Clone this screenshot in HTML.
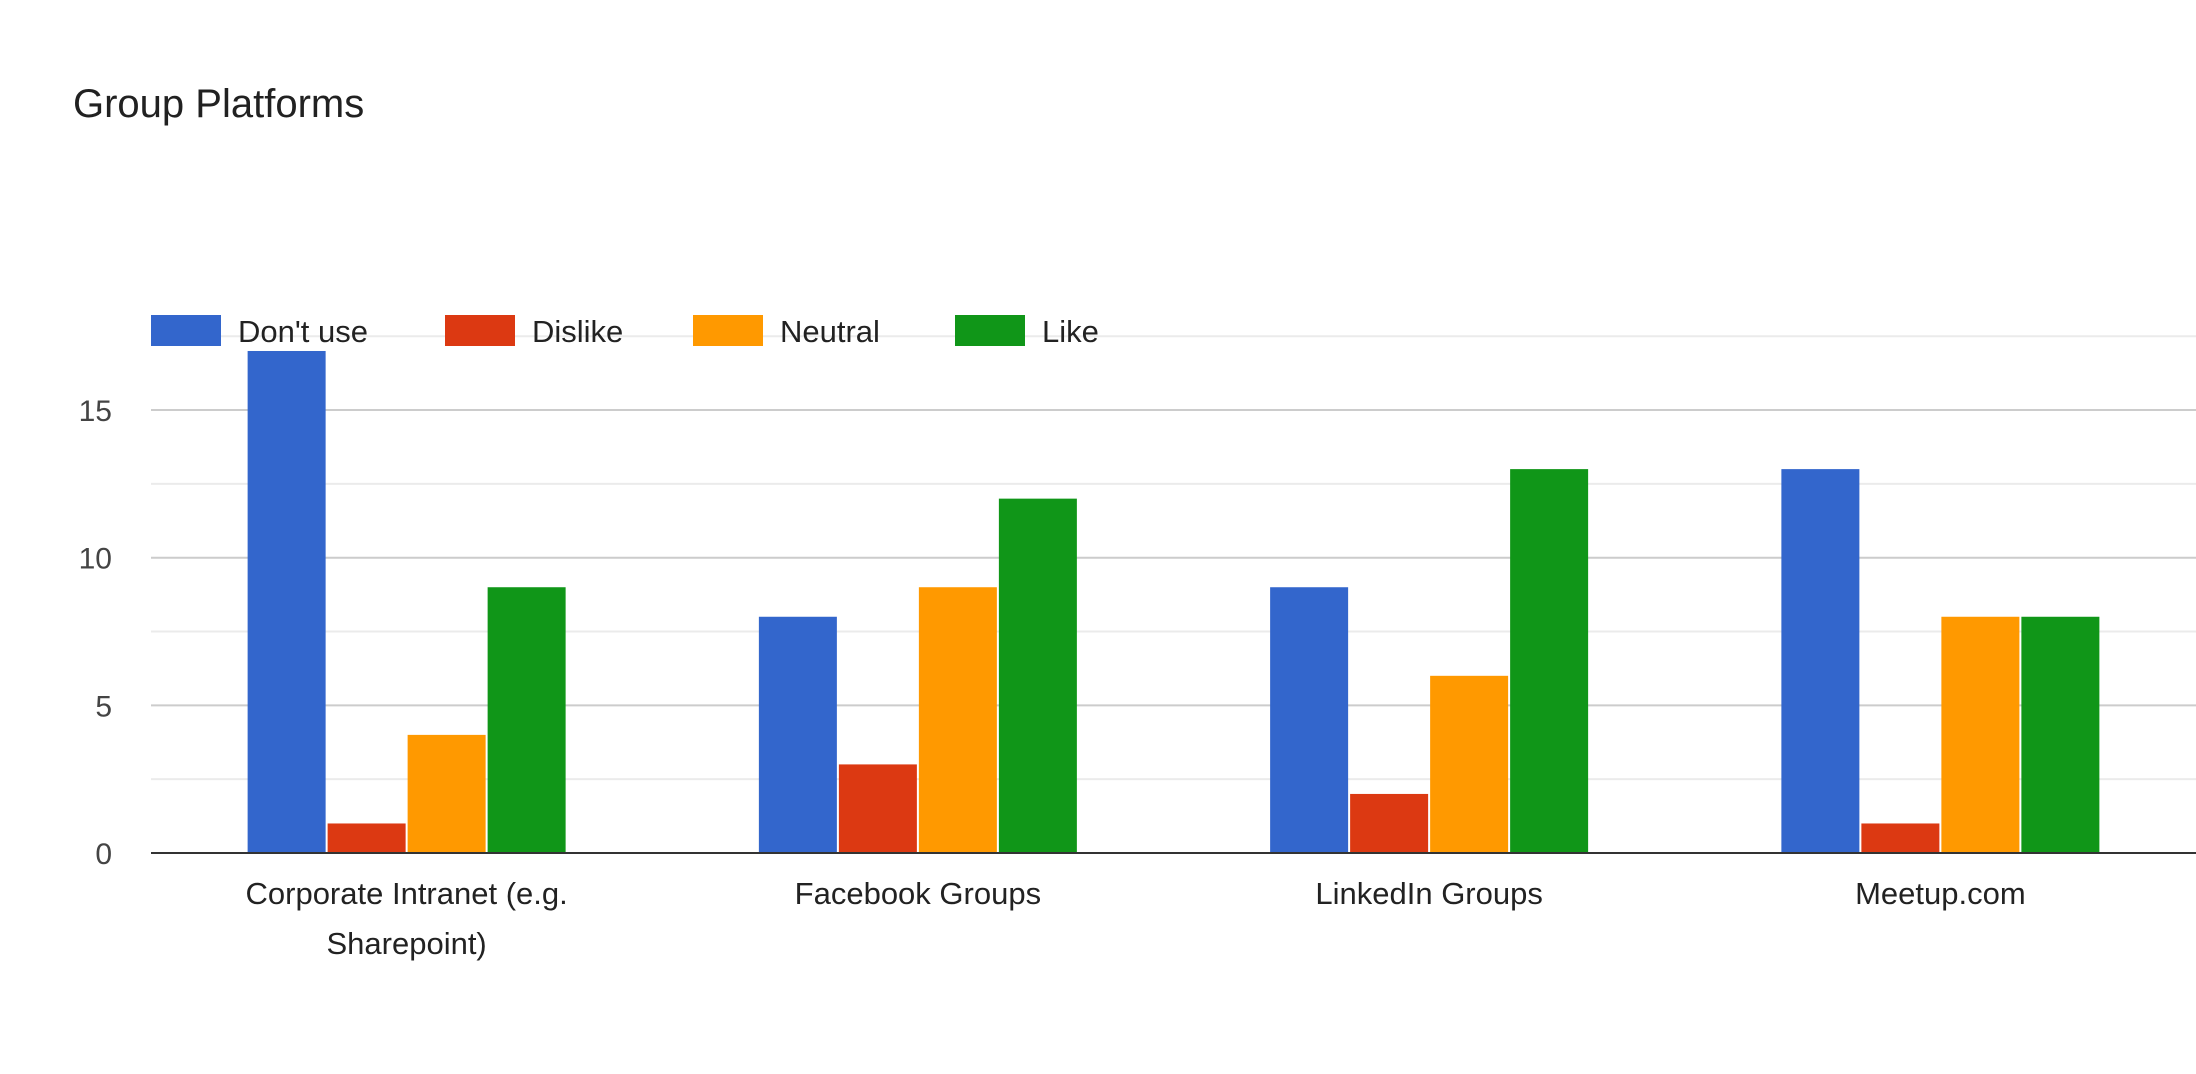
<!DOCTYPE html>
<html><head><meta charset="utf-8"><style>
html,body{margin:0;padding:0;background:#fff;}
svg{display:block;font-family:"Liberation Sans",Arial,sans-serif;}
</style></head><body>
<svg id="chart" width="2196" height="1074" viewBox="0 0 2196 1074">
<text x="73" y="117" font-size="40" fill="#212121">Group Platforms</text>
<g id="grid"></g><g id="bars"></g><g id="labels"></g><g id="legend"></g>
</svg>
<script>
const categories=[["Corporate Intranet (e.g.","Sharepoint)"],["Facebook Groups"],["LinkedIn Groups"],["Meetup.com"]];
const seriesNames=["Don't use","Dislike","Neutral","Like"];
const dontUse=[17,8,9,13];
const dislike=[1,3,2,1];
const neutral=[4,9,6,8];
const like=[9,12,13,8];
const yTicks=[0,5,10,15];
const colors=["#3366cc","#dc3912","#ff9900","#109618"];
const series=[dontUse,dislike,neutral,like];
const NS="http://www.w3.org/2000/svg";
const x0=151,x1=2196,y0=853,unit=29.53;
const y=v=>y0-v*unit;
const catW=(x1-x0)/categories.length;
const barW=78,gap=2;
function mk(t,a,p){const e=document.createElementNS(NS,t);for(const k in a)e.setAttribute(k,a[k]);p.appendChild(e);return e;}
const grid=document.getElementById('grid');
for(let v=2.5;v<=17.5;v+=2.5){
 const isMajor=v%5===0;
 const l=mk('line',{x1:x0,x2:x1,y1:y(v),y2:y(v),stroke:isMajor?'#cccccc':'#ebebeb','stroke-width':2},grid);
 
 
}
yTicks.forEach(v=>{
 const t=mk('text',{x:112,y:y(v)+11,'font-size':30,fill:'#444','text-anchor':'end'},grid);
 t.textContent=v;
 
 
});
const bars=document.getElementById('bars');
const groupW=series.length*barW+(series.length-1)*gap;
categories.forEach((c,i)=>{
 const cx=x0+catW*(i+0.5);
 series.forEach((s,j)=>{
  const bx=cx-groupW/2+j*(barW+gap);
  const r=mk('rect',{x:bx,y:y(s[i]),width:barW,height:s[i]*unit,fill:colors[j]},bars);
  
  
 });
 c.forEach((line,k)=>{
  const t=mk('text',{x:cx,y:904+k*50,'font-size':31,fill:'#222','text-anchor':'middle'},document.getElementById('labels'));
  t.textContent=line;
  
  
 });
});
const ax=mk('line',{x1:x0,x2:x1,y1:y0,y2:y0,stroke:'#333','stroke-width':2},bars);


const legend=document.getElementById('legend');
const lx=[151,445,693,955];
seriesNames.forEach((n,j)=>{
 const r=mk('rect',{x:lx[j],y:315,width:70,height:31,fill:colors[j]},legend);
 
 
 const t=mk('text',{x:lx[j]+87,y:342,'font-size':31,fill:'#222'},legend);
 t.textContent=n;
 
 
});
</script>
</body></html>
